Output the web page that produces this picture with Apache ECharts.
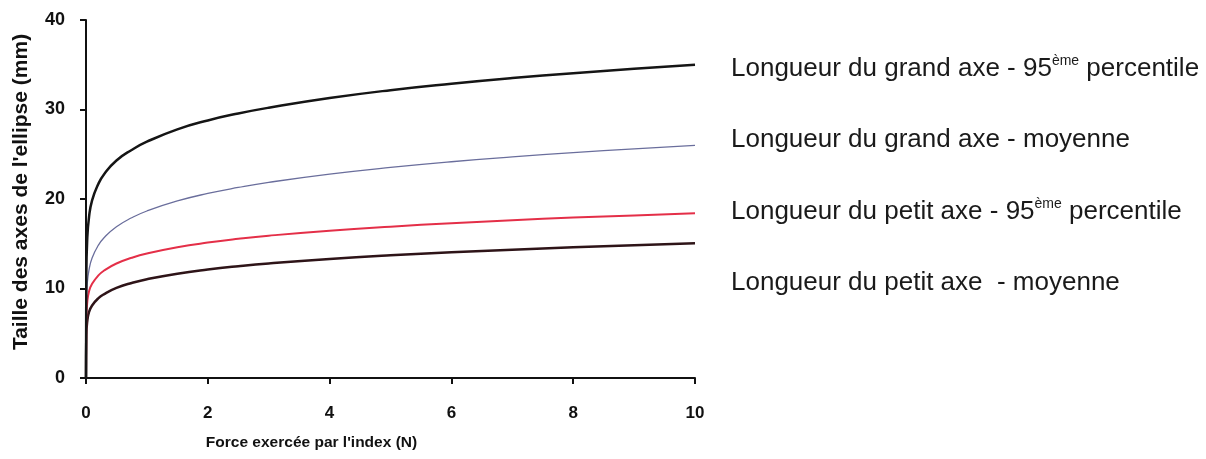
<!DOCTYPE html>
<html>
<head>
<meta charset="utf-8">
<script src="https://cdn.jsdelivr.net/npm/echarts@6/dist/echarts.min.js"></script>
<style>
  html, body { margin: 0; padding: 0; background: #ffffff; }
  #chart { width: 1206px; height: 459px; }
</style>
</head>
<body>
<div id="chart"></div>
<script>
// Force exercée par l'index (N)
var forceValues = [0, 0.005, 0.02, 0.05, 0.1, 0.2, 0.3, 0.5, 0.75, 1, 1.5, 2, 2.5, 3, 4, 5, 6, 7, 8, 9, 10];
// Longueur du grand axe - 95ème percentile (mm)
var grandAxe95 = [0, 11.0, 15.5, 18.0, 19.85, 21.65, 22.8, 24.3, 25.48, 26.4, 27.78, 28.78, 29.56, 30.2, 31.28, 32.16, 32.88, 33.51, 34.06, 34.55, 35.0];
// Longueur du grand axe - moyenne (mm)
var grandAxeMoy = [0, 8.0, 10.5, 12.1, 13.4, 14.8, 15.7, 16.9, 17.9, 18.66, 19.78, 20.62, 21.29, 21.86, 22.78, 23.53, 24.16, 24.7, 25.18, 25.61, 26.0];
// Longueur du petit axe - 95ème percentile (mm)
var petitAxe95 = [0, 6.5, 8.4, 9.7, 10.52, 11.44, 12.02, 12.79, 13.43, 13.91, 14.61, 15.13, 15.55, 15.9, 16.46, 16.91, 17.29, 17.63, 17.92, 18.17, 18.4];
// Longueur du petit axe - moyenne (mm)
var petitAxeMoy = [0, 4.8, 6.3, 7.38, 8.1, 8.89, 9.38, 10.06, 10.62, 11.04, 11.66, 12.12, 12.49, 12.8, 13.3, 13.71, 14.05, 14.34, 14.6, 14.84, 15.05];

var seriesNames = [
  'Longueur du grand axe - 95ème percentile',
  'Longueur du grand axe - moyenne',
  'Longueur du petit axe - 95ème percentile',
  'Longueur du petit axe  - moyenne'
];
var seriesValues = [grandAxe95, grandAxeMoy, petitAxe95, petitAxeMoy];
var seriesColors = ['#151515', '#6a6e9c', '#e42f48', '#2e1418'];
var seriesWidths = [2.5, 1.3, 2, 2.5];

function pairs(vals) {
  return forceValues.map(function (x, i) { return [x, vals[i]]; });
}

var chart = echarts.init(document.getElementById('chart'), null, { renderer: 'canvas' });

var baseFont = 'Liberation Sans, Arial, sans-serif';

var option = {
  backgroundColor: '#ffffff',
  animation: false,
  grid: { left: 86, right: 511, top: 20, bottom: 81, containLabel: false },
  legend: {
    orient: 'vertical',
    left: 720,
    top: 49,
    itemGap: 44.5,
    itemWidth: 0,
    itemHeight: 0,
    selectedMode: false,
    data: seriesNames,
    formatter: function (name) {
      var idx = name.indexOf('95ème');
      if (idx >= 0) {
        return '{n|' + name.slice(0, idx + 2) + '}{s|ème}{n| ' + name.slice(idx + 6) + '}';
      }
      return '{n|' + name + '}';
    },
    textStyle: {
      fontFamily: baseFont,
      fontSize: 26,
      color: '#1a1a1a',
      rich: {
        n: { fontFamily: baseFont, fontSize: 26, color: '#1a1a1a', lineHeight: 30 },
        s: { fontFamily: baseFont, fontSize: 14, color: '#1a1a1a', lineHeight: 30, verticalAlign: 'top', padding: [0, 0, 14, 0] }
      }
    }
  },
  xAxis: {
    type: 'value',
    min: 0,
    max: 10,
    interval: 2,
    name: "Force exercée par l'index (N)",
    nameLocation: 'middle',
    nameGap: 57,
    nameTextStyle: {
      fontFamily: baseFont,
      fontWeight: 'bold',
      fontSize: 15.5,
      color: '#111',
      padding: [0, 158, 0, 0]
    },
    axisLine: { show: true, onZero: false, lineStyle: { color: '#111', width: 2 } },
    axisTick: { show: true, inside: false, length: 6, lineStyle: { color: '#111', width: 2 } },
    axisLabel: { margin: 27, fontFamily: baseFont, fontWeight: 'bold', fontSize: 17, color: '#111' },
    splitLine: { show: false }
  },
  yAxis: {
    type: 'value',
    min: 0,
    max: 40,
    interval: 10,
    name: "Taille des axes de l'ellipse (mm)",
    nameLocation: 'middle',
    nameGap: 54,
    nameTextStyle: {
      fontFamily: baseFont,
      fontWeight: 'bold',
      fontSize: 21,
      color: '#111',
      padding: [0, 0, 0, 14]
    },
    axisLine: { show: true, onZero: false, lineStyle: { color: '#111', width: 2 } },
    axisTick: { show: true, inside: false, length: 6, lineStyle: { color: '#111', width: 2 } },
    axisLabel: { margin: 21, fontFamily: baseFont, fontWeight: 'bold', fontSize: 18, color: '#111' },
    splitLine: { show: false }
  },
  series: seriesNames.map(function (name, i) {
    return {
      name: name,
      type: 'line',
      data: pairs(seriesValues[i]),
      smooth: true,
      showSymbol: false,
      symbol: 'none',
      color: seriesColors[i],
      lineStyle: { color: seriesColors[i], width: seriesWidths[i] },
      z: 4 - i
    };
  })
};

chart.setOption(option);
</script>
</body>
</html>
